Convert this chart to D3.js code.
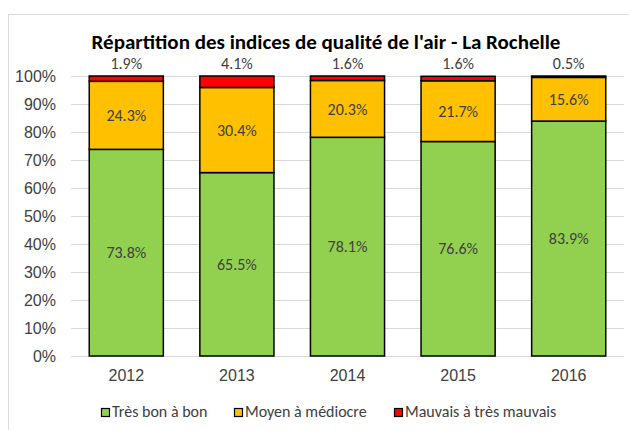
<!DOCTYPE html>
<html>
<head>
<meta charset="utf-8">
<script src="https://cdn.jsdelivr.net/npm/d3@7"></script>
<style>
  body { margin: 0; background: #fff; }
  svg { display: block; font-family: Carlito, Calibri, Lato, sans-serif; }
</style>
</head>
<body>
<svg id="chart" width="629" height="430"></svg>
<script>
var years = ["2012", "2013", "2014", "2015", "2016"];
var series = ["Très bon à bon", "Moyen à médiocre", "Mauvais à très mauvais"];
var tresBon = [73.8, 65.5, 78.1, 76.6, 83.9];
var moyen = [24.3, 30.4, 20.3, 21.7, 15.6];
var mauvais = [1.9, 4.1, 1.6, 1.6, 0.5];
var yTicks = [0, 10, 20, 30, 40, 50, 60, 70, 80, 90, 100];
var colors = ["#92d050", "#ffc000", "#ff0000"];

var svg = d3.select("#chart");

// cadre du graphique
svg.append("rect")
  .attr("x", 8.5).attr("y", 14.5)
  .attr("width", 700).attr("height", 500)
  .attr("fill", "none").attr("stroke", "#d9d9d9");

var plotLeft = 71, plotRight = 624, plotTop = 76, plotBottom = 356;

var x = d3.scaleBand().domain(years).range([plotLeft, plotRight]).paddingInner(0.33).paddingOuter(0.165);
var y = d3.scaleLinear().domain([0, 100]).range([plotBottom, plotTop]);

// grille
svg.append("g").selectAll("line")
  .data(yTicks)
  .enter().append("line")
  .attr("x1", plotLeft).attr("x2", plotRight)
  .attr("y1", function (d) { return Math.round(y(d)) + 0.5; })
  .attr("y2", function (d) { return Math.round(y(d)) + 0.5; })
  .attr("stroke", "#d9d9d9").attr("stroke-width", 1);

var yAxis = d3.axisLeft(y).tickValues(yTicks).tickSize(0).tickPadding(0)
  .tickFormat(function (d) { return d + "%"; });
var gy = svg.append("g").attr("transform", "translate(56,0)").call(yAxis);
gy.select(".domain").remove();
gy.selectAll("text").attr("font-size", 16).attr("fill", "#404040").attr("font-family", null);

var xAxis = d3.axisBottom(x).tickSize(0).tickPadding(0);
var gx = svg.append("g").attr("transform", "translate(0,370)").call(xAxis);
gx.select(".domain").remove();
gx.selectAll("text").attr("font-size", 16).attr("fill", "#404040").attr("font-family", null);

var table = years.map(function (yr, i) {
  return { year: yr, "Très bon à bon": tresBon[i], "Moyen à médiocre": moyen[i], "Mauvais à très mauvais": mauvais[i] };
});
var stacked = d3.stack().keys(series)(table);

var layers = svg.append("g").selectAll("g")
  .data(stacked)
  .enter().append("g")
  .attr("fill", function (d, i) { return colors[i]; });

layers.selectAll("rect")
  .data(function (d) { return d; })
  .enter().append("rect")
  .attr("x", function (d) { return x(d.data.year); })
  .attr("width", x.bandwidth())
  .attr("y", function (d) { return y(d[1]); })
  .attr("height", function (d) { return y(d[0]) - y(d[1]); })
  .attr("stroke", "#000").attr("stroke-width", 1.5);

// étiquettes
stacked.forEach(function (layer, li) {
  svg.append("g").selectAll("text")
    .data(layer)
    .enter().append("text")
    .attr("x", function (d) { return x(d.data.year) + x.bandwidth() / 2; })
    .attr("y", function (d) {
      return li < 2 ? (y(d[0]) + y(d[1])) / 2 : y(100) - 7;
    })
    .attr("dy", li < 2 ? "0.35em" : 0)
    .attr("text-anchor", "middle")
    .attr("font-size", 16)
    .attr("fill", "#404040")
    .text(function (d) { return (d[1] - d[0]).toFixed(1) + "%"; });
});

svg.append("text")
  .attr("x", 326).attr("y", 49)
  .attr("text-anchor", "middle")
  .attr("font-size", 21).attr("font-weight", "bold").attr("fill", "#000")
  .text("Répartition des indices de qualité de l'air - La Rochelle");

// légende
var legendX = [101, 234, 394];
var leg = svg.append("g").selectAll("g")
  .data(series)
  .enter().append("g")
  .attr("transform", function (d, i) { return "translate(" + legendX[i] + ",408)"; });
leg.append("rect")
  .attr("x", 0.5).attr("y", 0.5)
  .attr("width", 8).attr("height", 8)
  .attr("fill", function (d, i) { return colors[i]; })
  .attr("stroke", "#000").attr("stroke-width", 1.2);
leg.append("text")
  .attr("x", 11).attr("y", 9)
  .attr("font-size", 16).attr("fill", "#404040")
  .text(function (d) { return d; });
</script>
</body>
</html>
